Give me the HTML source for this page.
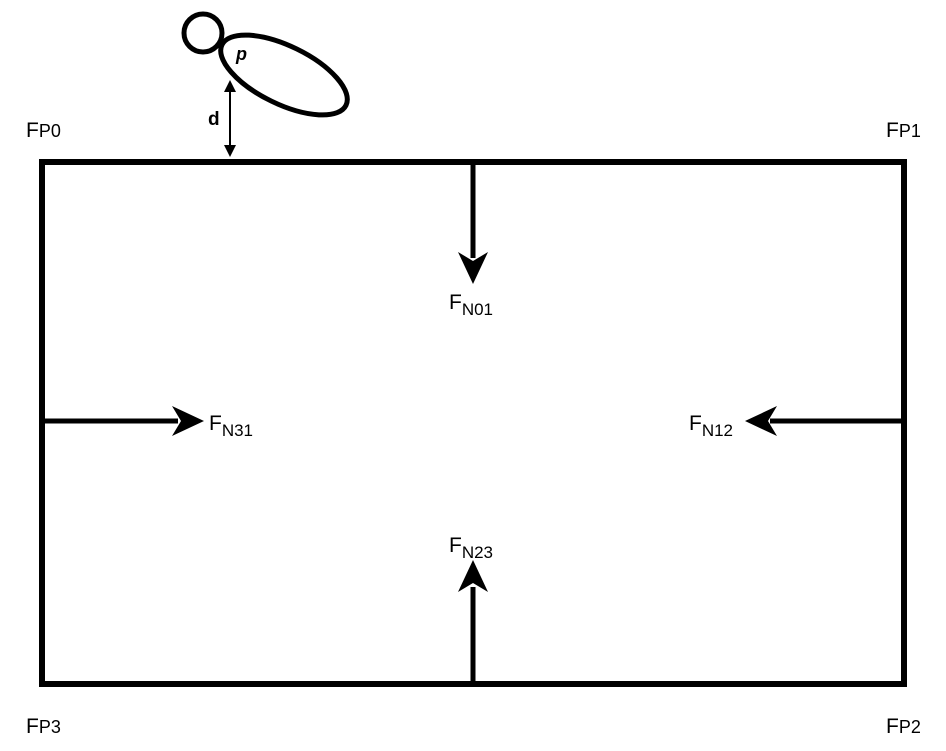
<!DOCTYPE html>
<html><head><style>body{margin:0;background:#fff}</style></head><body>
<svg width="946" height="746" xmlns="http://www.w3.org/2000/svg" font-family="Liberation Sans, sans-serif">
<rect x="42" y="162" width="862" height="522" fill="none" stroke="#000" stroke-width="6"/>
<g stroke="#000" stroke-width="5">
<line x1="473" y1="162" x2="473" y2="258"/>
<line x1="42" y1="421" x2="178" y2="421"/>
<line x1="904" y1="421" x2="770" y2="421"/>
<line x1="473" y1="684" x2="473" y2="587"/>
</g>
<g fill="#000">
<polygon points="473,284 458,252 473,261 488,252"/>
<polygon points="204,421 172,406 181,421 172,436"/>
<polygon points="745,421 777,406 768,421 777,436"/>
<polygon points="473,560 458,592 473,583 488,592"/>
</g>
<circle cx="203" cy="33" r="19" fill="#fff" stroke="#000" stroke-width="5"/>
<ellipse cx="284" cy="75" rx="69" ry="29" transform="rotate(26 284 75)" fill="#fff" stroke="#000" stroke-width="5"/>
<text x="236" y="60" font-size="18" font-weight="bold" font-style="italic">p</text>
<line x1="230" y1="88" x2="230" y2="150" stroke="#000" stroke-width="2"/>
<polygon points="230,80 224,92 236,92"/>
<polygon points="230,157 224,145 236,145"/>
<text x="208" y="125" font-size="19" font-weight="bold">d</text>
<g font-size="21">
<text x="26" y="137">F<tspan font-size="18">P0</tspan></text>
<text x="886" y="137">F<tspan font-size="18">P1</tspan></text>
<text x="26" y="733">F<tspan font-size="18">P3</tspan></text>
<text x="886" y="733">F<tspan font-size="18">P2</tspan></text>
<text x="449" y="309">F<tspan font-size="17" dy="6">N01</tspan></text>
<text x="209" y="430">F<tspan font-size="17" dy="6">N31</tspan></text>
<text x="689" y="430">F<tspan font-size="17" dy="6">N12</tspan></text>
<text x="449" y="552">F<tspan font-size="17" dy="6">N23</tspan></text>
</g>
</svg>
</body></html>
